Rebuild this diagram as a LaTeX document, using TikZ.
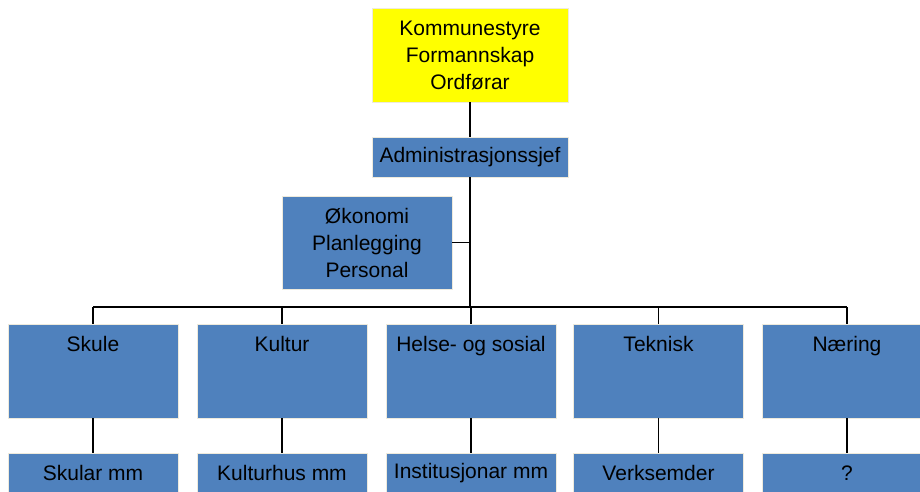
\documentclass[tikz,border=0pt]{standalone}
\usepackage{fontspec}
\setmainfont{Liberation Sans}
\definecolor{boxblue}{HTML}{4F81BD}
\definecolor{boxedge}{HTML}{EEEADC}
\definecolor{topyellow}{HTML}{FFFF00}
\begin{document}
\begin{tikzpicture}[x=1pt,y=-1pt,
  every node/.style={inner sep=0pt,outer sep=0pt},
  unit/.style={draw=boxedge,line width=0.8pt,fill=boxblue,align=center,
    font=\fontsize{21}{27}\selectfont},
  topunit/.style={unit,fill=topyellow},
  dept/.style={draw=boxedge,line width=0.8pt,fill=boxblue,
    minimum width=170pt,minimum height=94pt},
  sub/.style={unit,minimum width=170pt,minimum height=40pt},
  deptlabel/.style={font=\fontsize{21}{27}\selectfont,
    text height=15pt,text depth=4.5pt,anchor=north},
  link/.style={draw=black,line width=1.1pt}]
  \useasboundingbox (0,0) rectangle (920,491);
  \clip (0,0) rectangle (920,491);

  % top level and administration
  \node[topunit,minimum width=196pt,minimum height=94pt] (council) at (470,55)
    {Kommunestyre\\Formannskap\\Ordførar};
  \node[unit,minimum width=196pt,minimum height=40pt] (admin) at (470,157)
    {Administrasjonssjef};
  \node[unit,minimum width=170pt,minimum height=93pt] (staff) at (367,242.5)
    {Økonomi\\Planlegging\\Personal};

  % branch points on the trunk
  \coordinate (staffjoin) at (470,242.5);
  \coordinate (bus) at (470,307);

  % departments
  \foreach \name/\x/\title/\unitname in {
      skule/93/Skule/Skular mm,
      kultur/282/Kultur/Kulturhus mm,
      helse/471/Helse- og sosial/Institusjonar mm,
      teknisk/658.5/Teknisk/Verksemder,
      naering/847/Næring/?} {
    \node[dept] (\name) at (\x,371) {};
    \node[deptlabel] (\name-title) at ([yshift=-12pt]\name.north) {\title};
    \node[sub] (\name-unit) at (\x,473) {\unitname};
    \coordinate (\name-bus) at (\x,307);
    \draw[link] (\name-bus) -- (\name.north);
    \draw[link] (\name.south) -- (\name-unit.north);
  }

  % connectors
  \draw[link] (council.south) -- (admin.north);
  \draw[link] (admin.south) -- (bus);
  \draw[link] (staff.east) -- (staffjoin);
  \draw[link] (skule-bus) -- (naering-bus);
\end{tikzpicture}
\end{document}
